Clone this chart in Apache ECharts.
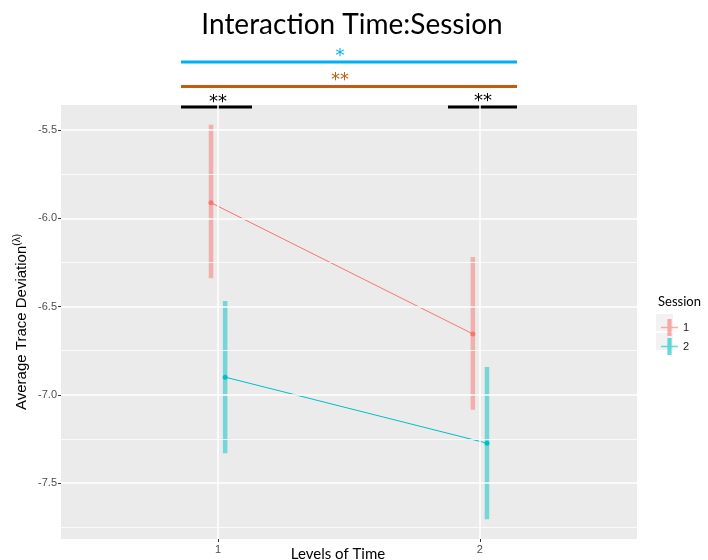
<!DOCTYPE html>
<html><head><meta charset="utf-8">
<script src="https://cdn.jsdelivr.net/npm/echarts@6/dist/echarts.min.js"></script>
<style>html,body{margin:0;padding:0;background:#fff}#c{width:708px;height:560px}</style>
</head><body><div id="c"></div>
<script>
// ---- data ----
const timeLevels = [1, 2];
const sessionNames = ['1', '2'];
const session1Mean = [-5.912, -6.655];
const session1Upper = [-5.47, -6.219];
const session1Lower = [-6.34, -7.085];
const session2Mean = [-6.900, -7.274];
const session2Upper = [-6.468, -6.842];
const session2Lower = [-7.331, -7.705];
const dodge = [-0.027, 0.027];
const yMajorTicks = [-7.5, -7.0, -6.5, -6.0, -5.5];
const yMinorTicks = [-7.75, -7.25, -6.75, -6.25, -5.75];
const colors = ['#F8766D', '#00BFC4'];

const means = [session1Mean, session2Mean];
const uppers = [session1Upper, session2Upper];
const lowers = [session1Lower, session2Lower];

const chart = echarts.init(document.getElementById('c'));

const series = [];
// gridlines through the axes' scales
series.push({
  type: 'scatter', data: [], silent: true, z: 1,
  markLine: {
    silent: true, symbol: 'none', animation: false,
    label: {show: false},
    data: [
      ...yMinorTicks.map(v => ({yAxis: v, lineStyle: {color: '#FFFFFF', width: 0.8, type: 'solid'}})),
      ...yMajorTicks.map(v => ({yAxis: v, lineStyle: {color: '#FFFFFF', width: 1.5, type: 'solid'}})),
      ...timeLevels.map(v => ({xAxis: v, lineStyle: {color: '#FFFFFF', width: 1.5, type: 'solid'}}))
    ]
  }
});
sessionNames.forEach((name, s) => {
  const barData = timeLevels.map((t, i) => [t + dodge[s], lowers[s][i], uppers[s][i]]);
  series.push({
    type: 'custom', z: 3, silent: true,
    data: barData,
    renderItem: (params, api) => {
      const p1 = api.coord([api.value(0), api.value(2)]);
      const p2 = api.coord([api.value(0), api.value(1)]);
      const w = 4.5;
      return {type: 'rect', shape: {x: p1[0] - w / 2, y: p1[1], width: w, height: p2[1] - p1[1]},
        style: {fill: colors[s], opacity: 0.5}};
    }
  });
  series.push({
    type: 'line', name: name, z: 4,
    data: timeLevels.map((t, i) => [t + dodge[s], means[s][i]]),
    symbol: 'circle', symbolSize: 5,
    lineStyle: {color: colors[s], width: 1},
    itemStyle: {color: colors[s]},
    color: colors[s]
  });
});

const iconPath = 'path://M0,7.7L17,7.7L17,9.3L0,9.3Z M6.4,0L10.6,0L10.6,17L6.4,17Z';

chart.setOption({
  animation: false,
  title: {
    text: 'Interaction Time:Session', left: 347, top: 6, textAlign: 'center',
    textStyle: {fontFamily: 'Lato', fontSize: 28, fontWeight: 'normal', color: '#000'}
  },
  grid: {left: 61, top: 105, right: 71, bottom: 21, show: true, backgroundColor: '#EBEBEB', borderWidth: 0,
    containLabel: false, outerBoundsMode: 'none'},
  xAxis: {
    type: 'value', min: 0.4, max: 2.6,
    axisLine: {show: false},
    axisTick: {show: true, length: 3, lineStyle: {color: '#333'}, customValues: timeLevels},
    axisLabel: {customValues: timeLevels, color: '#4D4D4D', fontFamily: 'Liberation Sans', fontSize: 11, margin: 5},
    splitLine: {show: false},
    name: 'Levels of Time', nameLocation: 'middle', nameGap: 8, nameMoveOverlap: false,
    nameTextStyle: {fontFamily: 'Lato', fontSize: 15, color: '#000', padding: [0, 22, 0, 0], verticalAlign: 'top'}
  },
  yAxis: {
    type: 'value', min: -7.817, max: -5.358,
    axisLine: {show: false},
    axisTick: {show: true, length: 3, lineStyle: {color: '#333'}, customValues: yMajorTicks},
    axisLabel: {customValues: yMajorTicks, color: '#4D4D4D', fontFamily: 'Liberation Sans', fontSize: 11, margin: 4,
      formatter: v => v.toFixed(1)},
    splitLine: {show: false},
    name: 'Average Trace Deviation{sup|(λ)}', nameLocation: 'middle', nameRotate: 90, nameGap: 30, nameMoveOverlap: false,
    nameTextStyle: {fontFamily: 'Liberation Sans', fontSize: 15, color: '#000',
      rich: {sup: {fontFamily: 'Liberation Sans', fontSize: 10, color: '#000', padding: [0, 0, 9, 0]}}}
  },
  legend: {
    orient: 'vertical', left: 656, top: 314, itemWidth: 17, itemHeight: 17, itemGap: 2,
    data: sessionNames.map((n, s) => ({name: n, icon: iconPath, itemStyle: {color: colors[s], opacity: 0.6}})),
    textStyle: {fontFamily: 'Liberation Sans', fontSize: 11, color: '#1a1a1a'},
    selectedMode: false
  },
  graphic: [
    {type: 'rect', z: 0, shape: {x: 656, y: 314, width: 17, height: 17}, style: {fill: '#F2F2F2'}},
    {type: 'rect', z: 0, shape: {x: 656, y: 333, width: 17, height: 17}, style: {fill: '#F2F2F2'}},
    {type: 'text', x: 658, y: 302, style: {text: 'Session', fontFamily: 'Lato', fontSize: 13, fill: '#000', textVerticalAlign: 'middle'}},
    {type: 'line', shape: {x1: 181, y1: 62, x2: 517, y2: 62}, style: {stroke: '#00B0F0', lineWidth: 3}},
    {type: 'line', shape: {x1: 181, y1: 86.5, x2: 517, y2: 86.5}, style: {stroke: '#C55A11', lineWidth: 3}},
    {type: 'line', shape: {x1: 181, y1: 107, x2: 252, y2: 107}, style: {stroke: '#000', lineWidth: 3}},
    {type: 'line', shape: {x1: 448, y1: 107, x2: 517, y2: 107}, style: {stroke: '#000', lineWidth: 3}},
    {type: 'text', x: 340, y: 56, style: {text: '*', fontFamily: 'DejaVu Sans', fontSize: 18, fill: '#00B0F0', textAlign: 'center', textVerticalAlign: 'middle'}},
    {type: 'text', x: 340, y: 80, style: {text: '**', fontFamily: 'DejaVu Sans', fontSize: 18, fill: '#C55A11', textAlign: 'center', textVerticalAlign: 'middle'}},
    {type: 'text', x: 218, y: 102, style: {text: '**', fontFamily: 'DejaVu Sans', fontSize: 18, fill: '#000', textAlign: 'center', textVerticalAlign: 'middle'}},
    {type: 'text', x: 483, y: 101, style: {text: '**', fontFamily: 'DejaVu Sans', fontSize: 18, fill: '#000', textAlign: 'center', textVerticalAlign: 'middle'}}
  ],
  series: series
});
</script></body></html>
